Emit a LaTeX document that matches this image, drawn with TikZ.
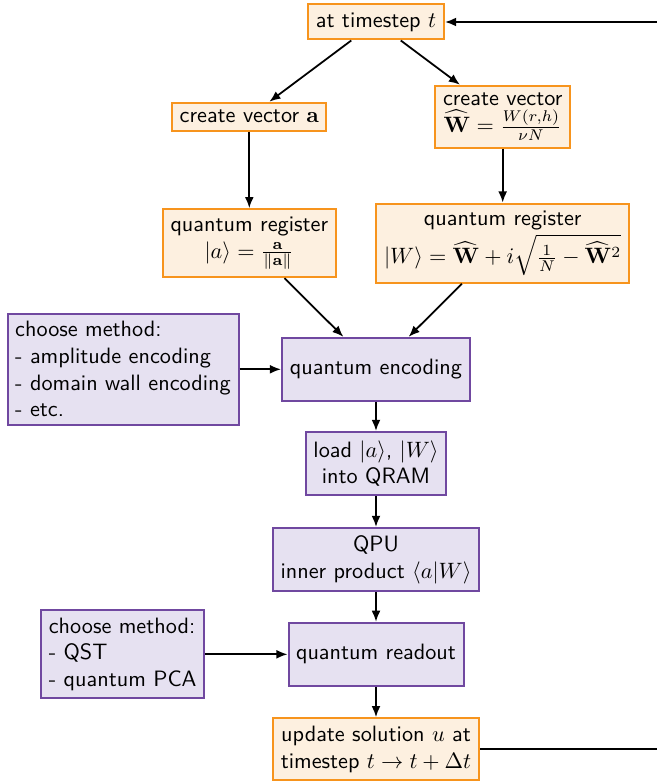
\documentclass[tikz,border=0pt]{standalone}
\usepackage{amsmath}
\usetikzlibrary{arrows.meta}
\definecolor{oborder}{RGB}{247,148,29}
\definecolor{ofill}{RGB}{253,240,224}
\definecolor{pborder}{RGB}{112,72,160}
\definecolor{pfill}{RGB}{230,225,241}
\newdimen\pxu \pxu=0.45pt
\begin{document}
\begin{tikzpicture}[x=0.45pt,y=-0.45pt,
  obox/.style={draw=oborder, fill=ofill, line width=0.9pt, font=\sffamily, align=center, inner sep=3.33pt},
  pbox/.style={draw=pborder, fill=pfill, line width=0.9pt, font=\sffamily, align=center, inner sep=3.33pt},
  mbox/.style={pbox, align=left},
  arr/.style={-{Latex[length=5pt,width=4pt]}, line width=0.8pt}]
\clip (0,0) rectangle (657,782);
\node[obox, minimum width=136\pxu, minimum height=35\pxu] (ts) at (376,22) {at timestep $t$};
\node[obox, minimum width=154\pxu, minimum height=28\pxu] (va) at (249.3,116.7) {create vector $\mathbf{a}$};
\node[obox, minimum width=135\pxu, minimum height=62\pxu] (vw) at (502.7,116.7) {create vector\\ $\widehat{\mathbf{W}} = \frac{W(r,h)}{\nu N}$};
\node[obox, minimum width=173\pxu, minimum height=68\pxu] (ra) at (249.3,243.2) {quantum register\\ $|a\rangle = \frac{\mathbf{a}}{\|\mathbf{a}\|}$};
\node[obox, minimum width=253\pxu, minimum height=78\pxu] (rw) at (502.7,243.2) {quantum register\\[1pt] $|W\rangle = \widehat{\mathbf{W}} + i\sqrt{\frac{1}{N} - \widehat{\mathbf{W}}^2}$};
\node[mbox, minimum width=231\pxu, minimum height=110\pxu] (cm1) at (123,369.3) {choose method:\\ - amplitude encoding\\ - domain wall encoding\\ - etc.};
\node[pbox, minimum width=188\pxu, minimum height=63\pxu] (enc) at (376,369.3) {quantum encoding};
\node[pbox, minimum width=139\pxu, minimum height=63\pxu] (load) at (376,463.5) {load $|a\rangle$, $|W\rangle$\\ into QRAM};
\node[pbox, minimum width=206\pxu, minimum height=63\pxu] (qpu) at (376,559.5) {QPU\\ inner product $\langle a|W\rangle$};
\node[mbox, minimum width=163\pxu, minimum height=88\pxu] (cm2) at (122.7,654.3) {choose method:\\ - QST\\ - quantum PCA};
\node[pbox, minimum width=175\pxu, minimum height=63\pxu] (ro) at (376,654.3) {quantum readout};
\node[obox, minimum width=206\pxu, minimum height=62\pxu] (upd) at (376,749.2) {update solution $u$ at\\ timestep $t \to t + \Delta t$};
\coordinate (c1) at (668,749.2);
\coordinate (c2) at (668,22);
\draw[arr] (ts) -- (va);
\draw[arr] (ts) -- (vw);
\draw[arr] (va) -- (ra);
\draw[arr] (vw) -- (rw);
\draw[arr] (ra) -- (enc);
\draw[arr] (rw) -- (enc);
\draw[arr] (cm1) -- (enc);
\draw[arr] (enc) -- (load);
\draw[arr] (load) -- (qpu);
\draw[arr] (qpu) -- (ro);
\draw[arr] (cm2) -- (ro);
\draw[arr] (ro) -- (upd);
\draw[arr] (upd.east) -- (c1) -- (c2) -- (ts.east);
\end{tikzpicture}
\end{document}
